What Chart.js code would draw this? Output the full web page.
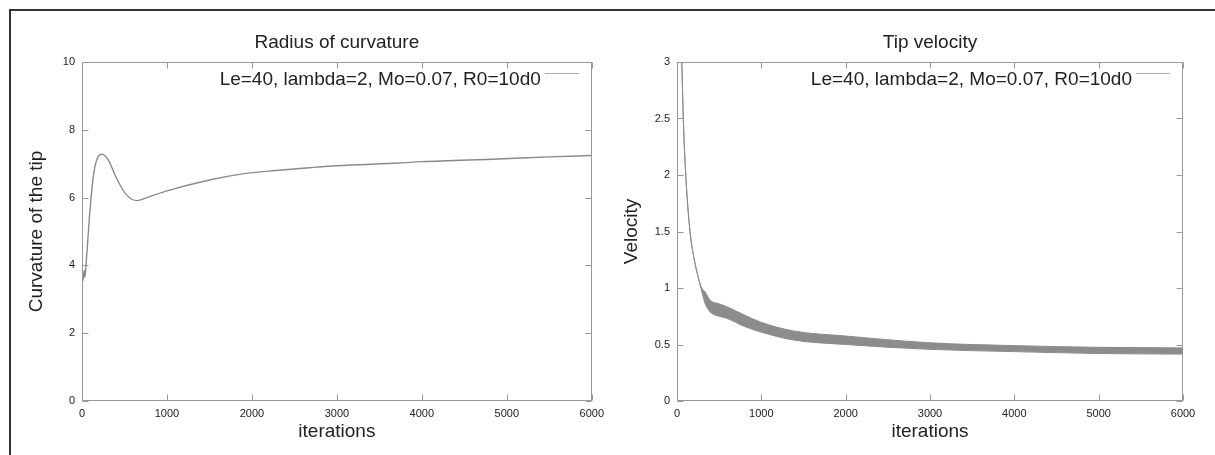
<!DOCTYPE html>
<html><head><meta charset="utf-8">
<script src="https://cdn.jsdelivr.net/npm/chart.js@4.4.1/dist/chart.umd.min.js"></script>
<style>
html,body{margin:0;padding:0;background:#fff;}
body{width:1215px;height:455px;position:relative;overflow:hidden;}
#frame{position:absolute;left:9px;top:9px;width:1210px;height:450px;border-left:2px solid #333;border-top:2px solid #333;}
#c1{position:absolute;left:0;top:0;}
#c2{position:absolute;left:610px;top:0;}
</style></head><body>
<div id="frame"></div>
<canvas id="c1" width="610" height="455"></canvas>
<canvas id="c2" width="605" height="455"></canvas>
<script>
// ---- data ----
const seriesLabel = 'Le=40, lambda=2, Mo=0.07, R0=10d0';
const xTickLabels = ['0','1000','2000','3000','4000','5000','6000'];
const curvTickLabels = ['0','2','4','6','8','10'];
const velTickLabels = ['0','0.5','1','1.5','2','2.5','3'];

const curvIter  = [0, 12, 25, 35, 50, 70, 94, 133, 180, 238, 309, 406, 524, 648, 797, 1000, 1500, 1890, 2281, 2672, 3000, 3727, 4000, 4898, 5500, 6000];
const curvValue = [3.95, 3.55, 3.85, 3.65, 4.1, 4.8, 5.63, 6.62, 7.16, 7.28, 7.11, 6.57, 6.08, 5.91, 6.03, 6.2, 6.52, 6.7, 6.8, 6.88, 6.94, 7.02, 7.06, 7.14, 7.2, 7.24];

const velIter  = [0, 8, 56, 75, 103, 154, 200, 250, 293, 333, 391, 500, 589, 800, 984, 1380, 2000, 3000, 4000, 5000, 6000];
const velUpper = [2.4, 3.4, 3.0, 2.49, 2.01, 1.5, 1.27, 1.1, 1.0, 0.967, 0.894, 0.86, 0.835, 0.76, 0.70, 0.62, 0.575, 0.515, 0.49, 0.475, 0.47];
const velLower = [2.4, 3.4, 3.0, 2.49, 2.01, 1.5, 1.27, 1.1, 0.97, 0.864, 0.79, 0.75, 0.732, 0.66, 0.613, 0.54, 0.50, 0.457, 0.437, 0.42, 0.415];

const FF = '"Liberation Sans", Arial, Helvetica, sans-serif';
const TXT = '#222';
const LINE = '#8a8a8a';

// gnuplot-like frame with inward ticks on all four sides
const gnuFrame = {
  id: 'gnuFrame',
  afterDatasetsDraw(chart) {
    const {ctx, chartArea: a, scales: {x, y}} = chart;
    const L = Math.round(a.left) + 0.5, R = Math.round(a.right) - 0.5;
    const T = Math.round(a.top) + 0.5, B = Math.round(a.bottom) - 0.5;
    ctx.save();
    ctx.strokeStyle = '#999';
    ctx.lineWidth = 1;
    ctx.strokeRect(L, T, R - L, B - T);
    ctx.beginPath();
    x.ticks.forEach(t => {
      const px = Math.round(x.getPixelForValue(t.value)) + 0.5;
      ctx.moveTo(px, B); ctx.lineTo(px, B - 6);
      ctx.moveTo(px, T); ctx.lineTo(px, T + 6);
    });
    y.ticks.forEach(t => {
      const py = Math.round(y.getPixelForValue(t.value)) + 0.5;
      ctx.moveTo(L, py); ctx.lineTo(L + 6, py);
      ctx.moveTo(R, py); ctx.lineTo(R - 6, py);
    });
    ctx.stroke();
    ctx.restore();
  }
};

// key drawn inside the plot, text right aligned with the sample line after it
const gnuKey = {
  id: 'gnuKey',
  afterDraw(chart) {
    const {ctx, chartArea: a} = chart;
    const label = chart.data.datasets[0].label;
    ctx.save();
    ctx.font = '19px ' + FF;
    ctx.fillStyle = TXT;
    ctx.textAlign = 'right';
    ctx.textBaseline = 'alphabetic';
    ctx.fillText(label, a.right - 51, a.top + 23);
    ctx.strokeStyle = '#aaa';
    ctx.lineWidth = 1;
    ctx.beginPath();
    ctx.moveTo(a.right - 47, a.top + 11.5);
    ctx.lineTo(a.right - 13, a.top + 11.5);
    ctx.stroke();
    ctx.restore();
  }
};

// centre the title over the plot area (not over the whole canvas)
const titleOverArea = {
  id: 'titleOverArea',
  afterLayout(chart) {
    if (chart.titleBlock) {
      chart.titleBlock.left = chart.chartArea.left;
      chart.titleBlock.right = chart.chartArea.right;
    }
  }
};

function makeChart(canvasId, cfg) {
  const xs = {
    type: 'linear', min: 0, max: 6000,
    afterBuildTicks(s) { s.ticks = xTickLabels.map(v => ({value: +v})); },
    ticks: {autoSkip: false, maxRotation: 0, minRotation: 0, padding: 6, color: TXT,
            font: {size: 11, family: FF}, callback: (v, i) => xTickLabels[i]},
    grid: {display: false, drawTicks: false},
    border: {display: false},
    title: {display: true, text: 'iterations', color: TXT, font: {size: 19, family: FF},
            padding: {top: 0, bottom: 12}},
    afterFit(s) { s.height = 54; }
  };
  const ys = {
    type: 'linear', min: cfg.yMin, max: cfg.yMax,
    afterBuildTicks(s) { s.ticks = cfg.yTicks.map(v => ({value: +v})); },
    ticks: {autoSkip: false, padding: 7, color: TXT, font: {size: 11, family: FF},
            callback: (v, i) => cfg.yTicks[i]},
    grid: {display: false, drawTicks: false},
    border: {display: false},
    title: {display: true, text: cfg.yTitle, color: TXT, font: {size: 19, family: FF},
            padding: {top: cfg.yTitlePad, bottom: 0}},
    afterFit(s) { s.width = cfg.yWidth; }
  };
  return new Chart(document.getElementById(canvasId), {
    type: 'line',
    data: {datasets: cfg.datasets},
    options: {
      responsive: false,
      animation: false,
      events: [],
      layout: {padding: {left: 0, right: cfg.padRight, top: 0, bottom: 0}},
      plugins: {
        legend: {display: false},
        tooltip: {enabled: false},
        title: {display: true, text: cfg.title, color: TXT, font: {size: 19, family: FF, weight: 'normal'},
                padding: {top: 31.6, bottom: 7.6}}
      },
      elements: {point: {radius: 0}},
      scales: {x: xs, y: ys}
    },
    plugins: [titleOverArea, gnuFrame, gnuKey]
  });
}

makeChart('c1', {
  title: 'Radius of curvature',
  yTitle: 'Curvature of the tip',
  yMin: 0, yMax: 10, yTicks: curvTickLabels,
  yWidth: 82, yTitlePad: 25.6, padRight: 16,
  datasets: [{
    label: seriesLabel,
    data: curvIter.map((x, i) => ({x, y: curvValue[i]})),
    borderColor: LINE, borderWidth: 1.4, fill: false,
    cubicInterpolationMode: 'monotone'
  }]
});

makeChart('c2', {
  title: 'Tip velocity',
  yTitle: 'Velocity',
  yMin: 0, yMax: 3, yTicks: velTickLabels,
  yWidth: 67, yTitlePad: 10.6, padRight: 32,
  datasets: [{
    label: seriesLabel,
    data: velIter.map((x, i) => ({x, y: velUpper[i]})),
    borderColor: LINE, borderWidth: 1, backgroundColor: '#8c8c8c',
    fill: '+1', cubicInterpolationMode: 'monotone'
  }, {
    label: seriesLabel + ' (lower envelope)',
    data: velIter.map((x, i) => ({x, y: velLower[i]})),
    borderColor: LINE, borderWidth: 1, fill: false,
    cubicInterpolationMode: 'monotone'
  }]
});
</script>
</body></html>
